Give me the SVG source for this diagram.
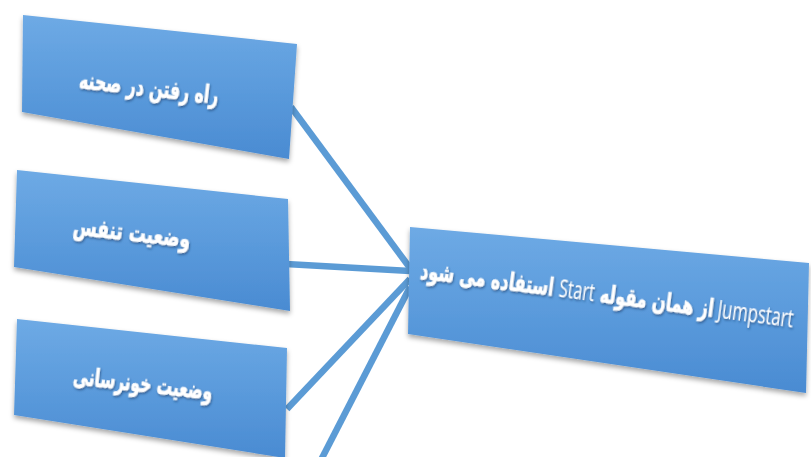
<svg xmlns="http://www.w3.org/2000/svg" width="811" height="457" viewBox="0 0 811 457">
  <defs>
    <linearGradient id="boxFill" x1="0" y1="0" x2="0" y2="1">
      <stop offset="0" stop-color="#6eaae5"/>
      <stop offset="0.5" stop-color="#5b9bdc"/>
      <stop offset="1" stop-color="#4a8bd2"/>
    </linearGradient>
    <filter id="boxShadow" x="-10%" y="-10%" width="120%" height="130%">
      <feDropShadow dx="0" dy="3" stdDeviation="2.5" flood-color="#000" flood-opacity="0.35"/>
    </filter>
    <filter id="textShadow" x="-10%" y="-30%" width="120%" height="160%">
      <feDropShadow dx="1" dy="1.5" stdDeviation="1" flood-color="#1a3f6e" flood-opacity="0.7"/>
    </filter>
  </defs>
  <style>
    .box { fill: url(#boxFill); filter: url(#boxShadow); }
    .conn { stroke: #5b9bd5; stroke-width: 6.5; fill: none; stroke-linecap: butt; }
    .fa { font-family: "DejaVu Sans", "Noto Sans", sans-serif; font-weight: bold; fill: #ffffff; stroke: #ffffff; stroke-width: 0.7; filter: url(#textShadow); }
    .lat { font-family: "Open Sans", "Liberation Sans", sans-serif; font-weight: normal; stroke-width: 0; }
  </style>
  <rect width="811" height="457" fill="#ffffff"/>
  <g id="connectors">
    <line class="conn" x1="291" y1="107" x2="410" y2="268"/>
    <line class="conn" x1="286" y1="264" x2="410" y2="271"/>
    <line class="conn" x1="287" y1="409" x2="410" y2="279"/>
    <line class="conn" x1="321" y1="460" x2="410" y2="287"/>
  </g>
  <g id="node1">
    <polygon class="box" points="23,15 297,44 289,159 22,112"/>
    <text class="fa" font-size="25" text-anchor="middle" transform="translate(148,96) rotate(6.5)" direction="rtl" textLength="140" lengthAdjust="spacingAndGlyphs">راه رفتن در صحنه</text>
  </g>
  <g id="node2">
    <polygon class="box" points="17,170 288,199 290,311 14,267"/>
    <text class="fa" font-size="25" text-anchor="middle" transform="translate(131,241) rotate(6.5)" direction="rtl" textLength="118" lengthAdjust="spacingAndGlyphs">وضعیت تنفس</text>
  </g>
  <g id="node3">
    <polygon class="box" points="17,319 287,348 285,458 14,415"/>
    <text class="fa" font-size="25" text-anchor="middle" transform="translate(142,392) rotate(6.5)" direction="rtl" textLength="140" lengthAdjust="spacingAndGlyphs">وضعیت خونرسانی</text>
  </g>
  <g id="node4">
    <polygon class="box" points="410,227 809,263 806,393 408,334"/>
    <text class="fa" font-size="25" text-anchor="middle" transform="translate(606,303) rotate(7.5)" direction="rtl" textLength="376" lengthAdjust="spacingAndGlyphs"><tspan class="lat" font-size="26">Jumpstart </tspan>از همان مقوله <tspan class="lat" font-size="25">Start</tspan> استفاده می شود</text>
  </g>
</svg>
